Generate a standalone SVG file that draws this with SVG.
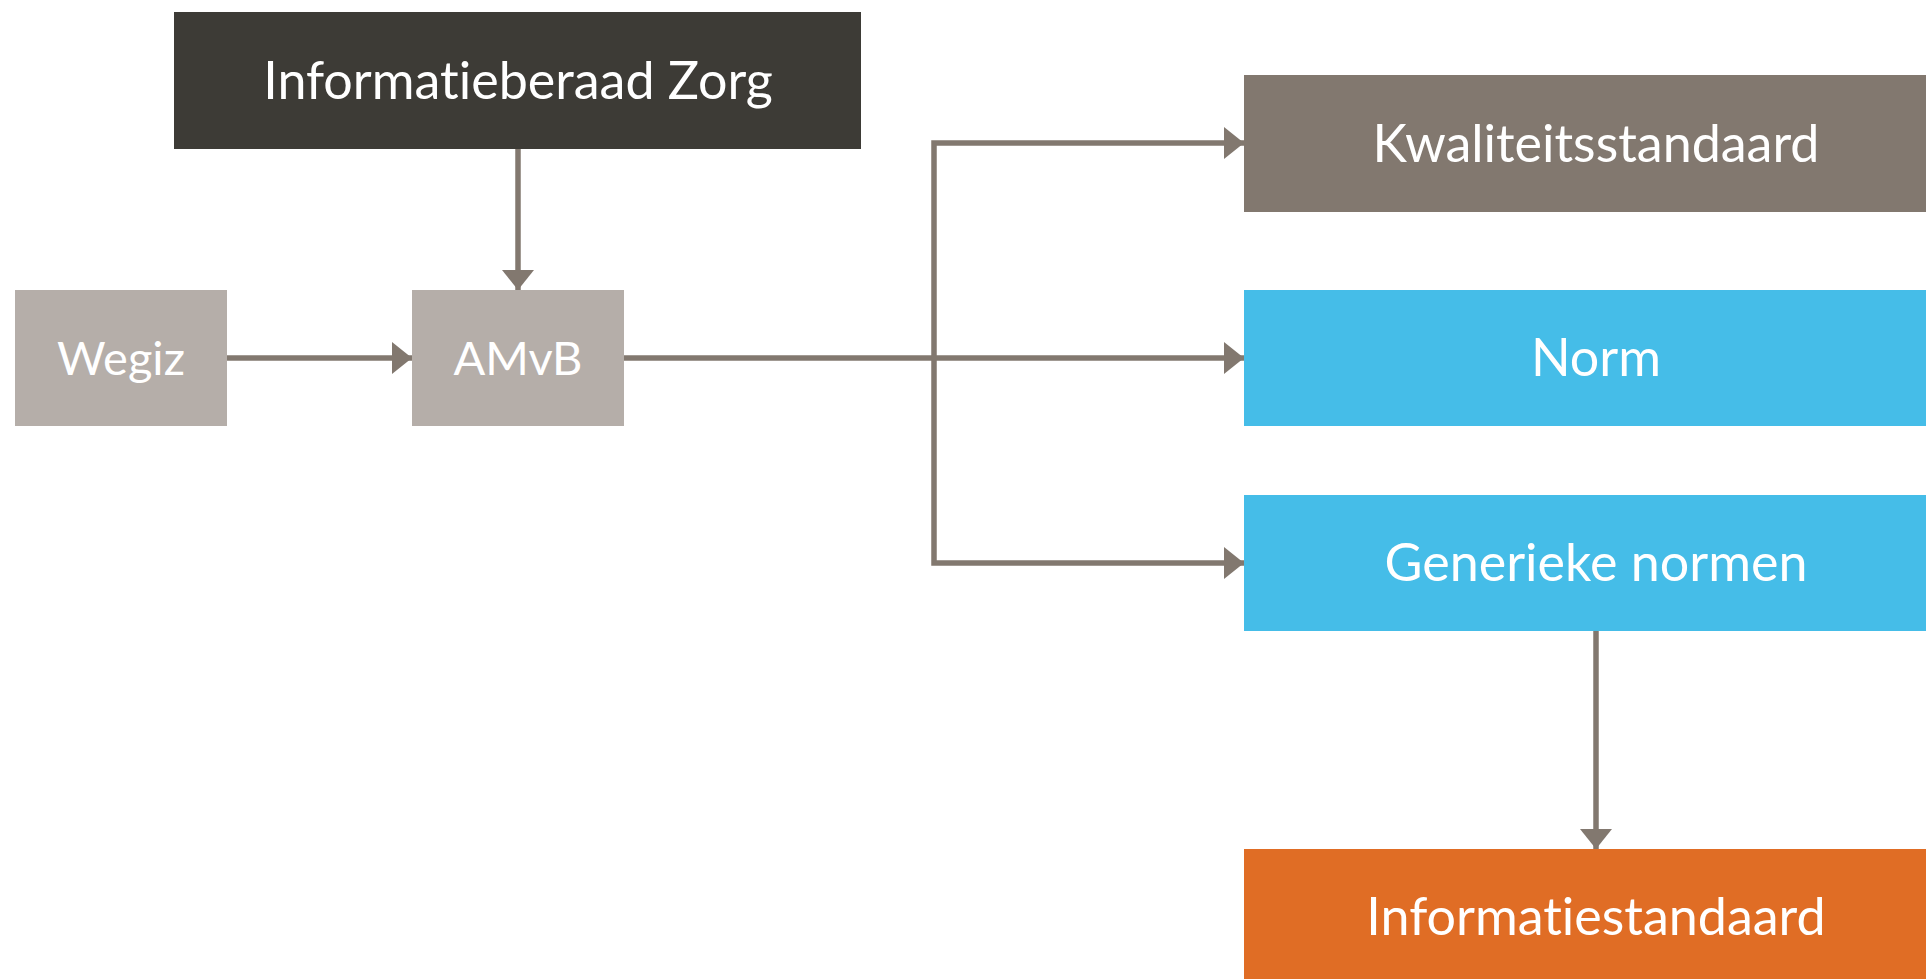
<svg xmlns="http://www.w3.org/2000/svg" width="1926" height="979" viewBox="0 0 1926 979">
  <style>
    .lbl { font-family: Lato, "Open Sans", "Liberation Sans", sans-serif; font-size: 52px; fill: #ffffff; text-anchor: middle; font-variant-ligatures: none; font-feature-settings: "liga" 0; }
    .sm { font-size: 47px; }
    .conn { fill: none; stroke: #82786f; stroke-width: 5.5; }
  </style>
  <defs>
    <marker id="arrow" markerUnits="userSpaceOnUse" markerWidth="21" markerHeight="32" refX="20" refY="16" orient="auto">
      <path d="M0,0 L20,16 L0,32 Z" fill="#82786f"/>
    </marker>
  </defs>
  <rect x="0" y="0" width="1926" height="979" fill="#ffffff"/>
  <g id="connectors">
    <path class="conn" d="M518,149 V290" marker-end="url(#arrow)"/>
    <path class="conn" d="M227,358 H412" marker-end="url(#arrow)"/>
    <path class="conn" d="M624,358 H1244" marker-end="url(#arrow)"/>
    <path class="conn" d="M934,358 V143 H1244" marker-end="url(#arrow)"/>
    <path class="conn" d="M934,358 V563 H1244" marker-end="url(#arrow)"/>
    <path class="conn" d="M1596,631 V849" marker-end="url(#arrow)"/>
  </g>
  <g id="informatieberaad">
    <rect x="174" y="12" width="687" height="137" fill="#3d3b36"/>
    <text class="lbl" x="518" y="99">Informatieberaad Zorg</text>
  </g>
  <g id="wegiz">
    <rect x="15" y="290" width="212" height="136" fill="#b5aea9"/>
    <text class="lbl sm" x="121" y="375">Wegiz</text>
  </g>
  <g id="amvb">
    <rect x="412" y="290" width="212" height="136" fill="#b5aea9"/>
    <text class="lbl sm" x="518" y="375">AMvB</text>
  </g>
  <g id="kwaliteitsstandaard">
    <rect x="1244" y="75" width="682" height="137" fill="#82786f"/>
    <text class="lbl" x="1596" y="162">Kwaliteitsstandaard</text>
  </g>
  <g id="norm">
    <rect x="1244" y="290" width="682" height="136" fill="#45bde8"/>
    <text class="lbl" x="1596" y="376">Norm</text>
  </g>
  <g id="generieke-normen">
    <rect x="1244" y="495" width="682" height="136" fill="#45bde8"/>
    <text class="lbl" x="1596" y="581">Generieke normen</text>
  </g>
  <g id="informatiestandaard">
    <rect x="1244" y="849" width="682" height="130" fill="#e06d25"/>
    <text class="lbl" x="1596" y="935">Informatiestandaard</text>
  </g>
</svg>
